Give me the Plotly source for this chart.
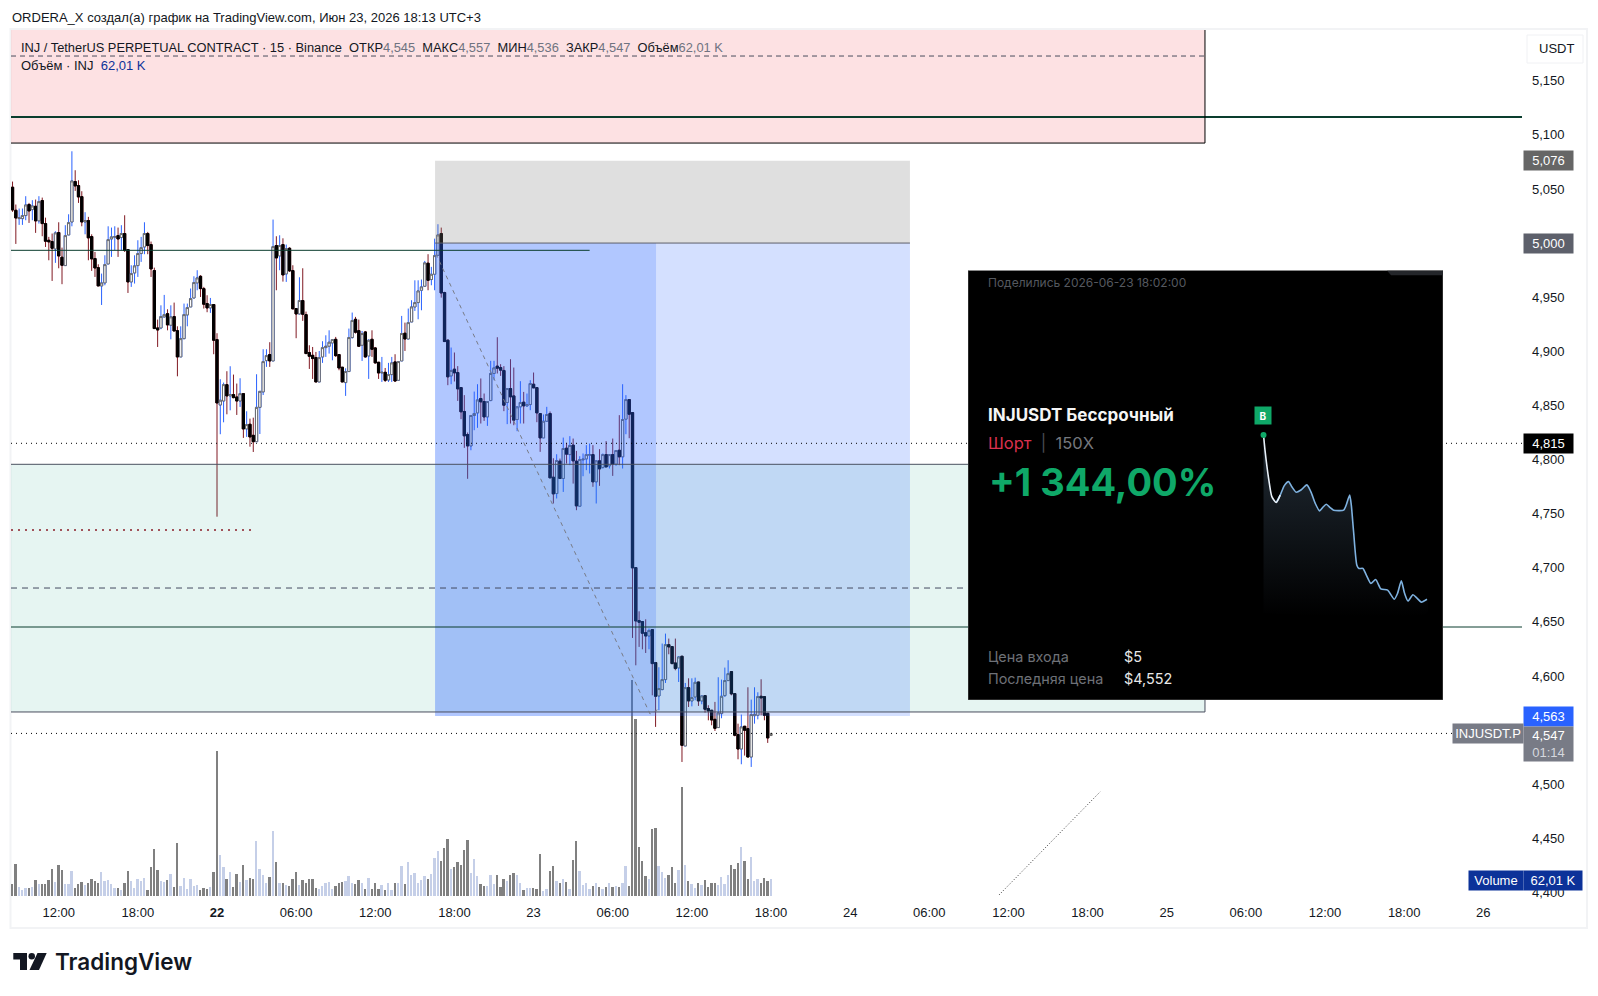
import pandas as pd
import plotly.graph_objects as go

opens = [5.0516,5.0303,5.0226,5.0226,5.0254,5.0356,5.0309,5.0340,5.0205,5.0393,5.0180,5.0026,5.0014,4.9946,5.0097,4.9869,4.9792,5.0075,5.0195,5.0568,5.0531,5.0429,5.0195,5.0208,5.0060,4.9857,4.9773,4.9604,4.9632,4.9807,5.0038,5.0054,5.0069,5.0051,5.0088,4.9940,4.9641,4.9724,4.9792,4.9903,4.9964,5.0088,4.9986,4.9746,4.9216,4.9216,4.9318,4.9348,4.9241,4.9321,4.9191,4.8948,4.9117,4.9336,4.9410,4.9493,4.9632,4.9693,4.9579,4.9441,4.9401,4.9432,4.9108,4.8504,4.8541,4.8692,4.8588,4.8600,4.8578,4.8541,4.8609,4.8283,4.8326,4.8224,4.8165,4.8482,4.8625,4.8914,4.8970,4.8911,4.9977,4.9881,4.9986,4.9715,4.9952,4.9746,4.9395,4.9345,4.9469,4.9339,4.8988,4.8963,4.8942,4.8717,4.8948,4.9034,4.9047,4.9077,4.9111,4.8970,4.8853,4.8711,4.8813,4.9127,4.9296,4.9191,4.9056,4.9179,4.8957,4.9111,4.9031,4.8899,4.8800,4.8806,4.8735,4.8785,4.8902,4.8732,4.8911,4.9167,4.9114,4.9271,4.9410,4.9450,4.9564,4.9601,4.9814,4.9663,4.9712,4.9887,5.0088,4.9543,4.9103,4.8773,4.8835,4.8804,4.8665,4.8444,4.8231,4.8126,4.8407,4.8431,4.8564,4.8536,4.8394,4.8545,4.8795,4.8863,4.8850,4.8823,4.8527,4.8656,4.8588,4.8370,4.8487,4.8530,4.8496,4.8508,4.8696,4.8665,4.8425,4.8200,4.8354,4.8425,4.7837,4.7686,4.7985,4.7825,4.8105,4.8046,4.8133,4.7985,4.7569,4.7997,4.8006,4.8040,4.8046,4.7794,4.7988,4.7926,4.8046,4.7942,4.8046,4.7957,4.8086,4.8025,4.8373,4.8554,4.8434,4.7002,4.6512,4.6503,4.6401,4.6370,4.6429,4.6124,4.5816,4.5875,4.5967,4.6290,4.6272,4.6121,4.6075,4.6183,4.5354,4.5893,4.5770,4.5807,4.5945,4.5770,4.5819,4.5699,4.5684,4.5600,4.5524,4.5653,4.5819,4.5958,4.6041,4.5838,4.5459,4.5326,4.5536,4.5514,4.5252,4.5634,4.5637,4.5813,4.5810,4.5656,4.5450]
highs = [5.0568,5.0356,5.0319,5.0319,5.0433,5.0371,5.0396,5.0402,5.0433,5.0420,5.0235,5.0057,5.0088,5.0109,5.0192,4.9958,5.0165,5.0266,5.0848,5.0673,5.0580,5.0479,5.0285,5.0242,5.0081,4.9918,4.9804,4.9718,4.9887,5.0155,5.0143,5.0155,5.0143,5.0165,5.0257,4.9940,4.9795,4.9887,5.0026,5.0057,5.0192,5.0103,5.0014,4.9773,4.9293,4.9425,4.9521,4.9388,4.9425,4.9450,4.9231,4.9231,4.9441,4.9441,4.9580,4.9693,4.9749,4.9703,4.9595,4.9518,4.9493,4.9432,4.9167,4.8742,4.8711,4.8816,4.8862,4.8785,4.8702,4.8751,4.8609,4.8446,4.8378,4.8387,4.8788,4.8630,4.9019,4.9019,4.9084,5.0217,5.0063,5.0072,5.0044,4.9986,4.9961,4.9795,4.9395,4.9684,4.9767,4.9367,4.9056,4.9040,4.8994,4.9003,4.9093,4.9148,4.9194,4.9108,4.9133,4.8970,4.8853,4.8843,4.9210,4.9358,4.9318,4.9293,4.9188,4.9188,4.9111,4.9194,4.9040,4.8899,4.8948,4.8846,4.8893,4.8948,4.8973,4.8905,4.9327,4.9265,4.9395,4.9472,4.9656,4.9656,4.9663,4.9835,4.9897,4.9780,5.0041,5.0174,5.0143,4.9550,4.9109,4.9035,4.8989,4.8863,4.8665,4.8595,4.8250,4.8407,4.8628,4.8696,4.8749,4.8610,4.8536,4.8912,4.8912,4.9130,4.8881,4.8863,4.8656,4.8927,4.8850,4.8487,4.8724,4.8625,4.8610,4.8733,4.8804,4.8665,4.8425,4.8416,4.8487,4.8444,4.8012,4.8049,4.8009,4.8203,4.8154,4.8216,4.8194,4.8080,4.8031,4.8056,4.8133,4.8148,4.8133,4.7988,4.8096,4.8056,4.8170,4.8046,4.8194,4.8086,4.8410,4.8696,4.8595,4.8434,4.7131,4.6725,4.6598,4.6444,4.6524,4.6438,4.6207,4.6090,4.6081,4.6300,4.6392,4.6346,4.6275,4.6346,4.6183,4.5979,4.5936,4.5979,4.5979,4.5985,4.5905,4.5819,4.5776,4.5730,4.5600,4.5761,4.5989,4.5967,4.6078,4.6146,4.5853,4.5597,4.5560,4.5644,4.5514,4.5896,4.5782,4.5896,4.5850,4.5970,4.5690,4.5570]
lows = [5.0288,4.9992,5.0168,5.0168,5.0211,5.0186,5.0211,5.0094,5.0180,5.0063,4.9964,4.9841,4.9650,4.9817,4.9767,4.9620,4.9792,5.0075,5.0155,5.0482,5.0371,5.0155,5.0081,4.9841,4.9743,4.9687,4.9604,4.9428,4.9610,4.9804,4.9872,4.9934,4.9872,4.9934,4.9918,4.9539,4.9595,4.9626,4.9687,4.9826,4.9897,4.9897,4.9687,4.9210,4.9040,4.9204,4.9311,4.9194,4.9111,4.9188,4.8769,4.8948,4.9111,4.9231,4.9410,4.9487,4.9564,4.9502,4.9395,4.9361,4.9355,4.8973,4.7472,4.8234,4.8344,4.8418,4.8455,4.8566,4.8412,4.8486,4.8200,4.8209,4.8119,4.8070,4.8165,4.8236,4.8596,4.8856,4.8856,4.8911,4.9564,4.9749,4.9644,4.9641,4.9733,4.9392,4.9121,4.9342,4.9281,4.8979,4.8837,4.8745,4.8717,4.8717,4.8893,4.8948,4.8979,4.8917,4.8948,4.8825,4.8717,4.8588,4.8810,4.9117,4.9164,4.9040,4.8911,4.8942,4.8745,4.8948,4.8886,4.8745,4.8717,4.8717,4.8717,4.8717,4.8717,4.8732,4.8911,4.9003,4.9111,4.9271,4.9373,4.9296,4.9379,4.9601,4.9564,4.9610,4.9564,4.9887,4.9496,4.9090,4.8687,4.8696,4.8721,4.8542,4.8373,4.8108,4.7822,4.8086,4.8271,4.8293,4.8333,4.8357,4.8311,4.8539,4.8733,4.8795,4.8773,4.8447,4.8327,4.8333,4.8317,4.8262,4.8333,4.8333,4.8487,4.8456,4.8662,4.8345,4.8071,4.8200,4.8348,4.7831,4.7594,4.7640,4.7825,4.7701,4.7963,4.7948,4.7778,4.7532,4.7563,4.7846,4.7902,4.7871,4.7748,4.7594,4.7757,4.7917,4.7932,4.7917,4.7849,4.7942,4.7948,4.7917,4.8234,4.8197,4.6352,4.6099,4.6269,4.6247,4.6213,4.6247,4.5822,4.5530,4.5684,4.5868,4.5936,4.6201,4.6109,4.6053,4.5945,4.5206,4.5354,4.5714,4.5720,4.5776,4.5724,4.5739,4.5662,4.5591,4.5545,4.5493,4.5524,4.5610,4.5807,4.5958,4.5822,4.5443,4.5231,4.5185,4.5265,4.5252,4.5160,4.5560,4.5600,4.5637,4.5591,4.5382,4.5360]
closes = [5.0306,5.0232,5.0232,5.0254,5.0352,5.0297,5.0343,5.0205,5.0383,5.0180,5.0017,5.0011,4.9952,5.0094,4.9881,4.9795,5.0069,5.0189,5.0574,5.0528,5.0426,5.0195,5.0208,5.0048,4.9854,4.9770,4.9604,4.9632,4.9801,5.0032,5.0057,5.0060,5.0038,5.0088,4.9931,4.9641,4.9718,4.9789,4.9903,4.9958,5.0088,4.9977,4.9761,4.9210,4.9197,4.9321,4.9339,4.9244,4.9318,4.9188,4.8948,4.9117,4.9339,4.9404,4.9487,4.9635,4.9678,4.9579,4.9435,4.9401,4.9432,4.9102,4.8523,4.8548,4.8692,4.8588,4.8600,4.8572,4.8541,4.8609,4.8283,4.8323,4.8209,4.8165,4.8482,4.8630,4.8905,4.8960,4.8911,4.9967,4.9863,4.9977,4.9706,4.9949,4.9743,4.9392,4.9345,4.9469,4.9342,4.8979,4.8954,4.8933,4.8717,4.8942,4.9034,4.9047,4.9084,4.9108,4.8960,4.8846,4.8717,4.8813,4.9127,4.9284,4.9176,4.9047,4.9164,4.8948,4.9102,4.9019,4.8893,4.8800,4.8806,4.8732,4.8785,4.8893,4.8726,4.8905,4.9164,4.9114,4.9265,4.9410,4.9450,4.9558,4.9595,4.9817,4.9656,4.9712,4.9884,5.0075,4.9539,4.9090,4.8764,4.8823,4.8801,4.8653,4.8441,4.8219,4.8126,4.8407,4.8425,4.8551,4.8533,4.8394,4.8536,4.8795,4.8847,4.8844,4.8826,4.8502,4.8656,4.8579,4.8364,4.8487,4.8527,4.8496,4.8508,4.8702,4.8662,4.8431,4.8200,4.8354,4.8416,4.7831,4.7683,4.7991,4.7825,4.8102,4.8050,4.8130,4.7988,4.7572,4.8000,4.8003,4.8046,4.8046,4.7794,4.7988,4.7914,4.8046,4.7932,4.8046,4.7957,4.8083,4.8025,4.8370,4.8554,4.8419,4.6999,4.6509,4.6497,4.6395,4.6370,4.6420,4.6115,4.5813,4.5884,4.5967,4.6290,4.6269,4.6115,4.6069,4.6176,4.5360,4.5893,4.5770,4.5801,4.5942,4.5770,4.5816,4.5693,4.5677,4.5594,4.5517,4.5659,4.5813,4.5958,4.6022,4.5835,4.5453,4.5326,4.5530,4.5499,4.5252,4.5644,4.5647,4.5810,4.5798,4.5637,4.5428,4.5470]
volumes_k = [44,117,33,22,29,29,33,58,44,44,44,58,98,51,113,95,44,44,91,29,44,51,40,47,62,55,47,88,55,58,44,29,29,22,47,91,55,29,62,55,66,22,106,171,95,55,51,58,80,33,193,36,66,26,62,36,40,22,29,26,33,88,529,150,106,62,88,33,80,51,113,58,66,62,201,98,77,47,69,237,124,47,47,40,36,62,88,40,58,47,62,62,29,26,36,47,51,26,36,47,51,55,73,47,44,58,47,26,66,26,47,26,40,22,47,22,47,47,109,44,124,77,84,47,58,73,62,80,139,164,128,175,208,98,106,124,113,168,204,84,135,73,44,36,36,77,44,77,33,62,55,77,84,77,47,22,29,29,29,26,153,18,26,91,109,55,47,62,51,26,131,201,91,40,47,26,36,47,33,26,33,47,33,36,33,47,109,36,788,646,179,128,73,62,244,248,109,88,66,77,106,47,95,398,113,55,44,29,47,40,58,33,47,47,40,69,44,77,113,98,120,179,128,62,142,55,62,47,66,55,62]

bar_start = "2026-06-21 08:30"
times = pd.date_range(bar_start, periods=len(opens), freq="15min")

price_ticks = [4.40,4.45,4.50,4.60,4.65,4.70,4.75,4.80,4.85,4.90,4.95,5.05,5.10,5.15]
time_tick_vals = ["2026-06-21 12:00","2026-06-21 18:00","2026-06-22 00:00","2026-06-22 06:00","2026-06-22 12:00","2026-06-22 18:00","2026-06-23 00:00","2026-06-23 06:00","2026-06-23 12:00","2026-06-23 18:00","2026-06-24 00:00","2026-06-24 06:00","2026-06-24 12:00","2026-06-24 18:00","2026-06-25 00:00","2026-06-25 06:00","2026-06-25 12:00","2026-06-25 18:00","2026-06-26 00:00"]
time_tick_text = ["12:00","18:00","<b>22</b>","06:00","12:00","18:00","23","06:00","12:00","18:00","24","06:00","12:00","18:00","25","06:00","12:00","18:00","26"]

mini_t = [0,1.0,3.1,5.1,7.8,10.2,12.7,15.3,17.3,20.0,22.9,26.5,29.0,31.6,34.3,36.3,38.4,40.8,42.9,49.0,50.6,52.7,53.7,55.1,57.1,58.4,60.8,62.9,65.7,68.6,71.8,75.9,80.0,82.0,84.3,86.3,88.4,91.4,93.9,96.5,100]
mini_v = [5.000,4.955,4.882,4.832,4.816,4.836,4.862,4.873,4.859,4.844,4.850,4.864,4.845,4.814,4.793,4.803,4.811,4.802,4.795,4.795,4.809,4.836,4.809,4.736,4.645,4.636,4.636,4.618,4.595,4.606,4.580,4.577,4.552,4.568,4.602,4.568,4.547,4.564,4.555,4.544,4.552]

X0, X1 = "2026-06-21 08:23", "2026-06-26 02:56"
Y0, Y1 = 4.39678, 5.19684
VOL_MAX = 3159
L, R, T, B = 11, 1522, 30, 896
FONT = "Liberation Sans"
UI = "Inter"
INK = "#131722"


def px(x):
    return (x - L) / (R - L)


def py(y):
    return (B - y) / (B - T)


fig = go.Figure()

# volume
vol_colors = ["#c5cfe8" if c >= o else "#808080" for o, c in zip(opens, closes)]
fig.add_trace(go.Bar(x=times, y=volumes_k, width=500000, marker=dict(color=vol_colors, line_width=0), yaxis="y", hoverinfo="skip"))

# wicks, then bodies
fig.add_trace(go.Candlestick(x=times, open=opens, high=highs, low=lows, close=closes, yaxis="y2",
                             increasing=dict(line=dict(color="#2962ff", width=1), fillcolor="#2962ff"),
                             decreasing=dict(line=dict(color="#801922", width=1), fillcolor="#801922"),
                             whiskerwidth=0, hoverinfo="skip"))
fig.add_trace(go.Candlestick(x=times, open=opens, close=closes,
                             high=[max(o, c) for o, c in zip(opens, closes)],
                             low=[min(o, c) for o, c in zip(opens, closes)], yaxis="y2",
                             increasing=dict(line=dict(color="#6a6a6a", width=1), fillcolor="#ffffff"),
                             decreasing=dict(line=dict(color="#000000", width=1), fillcolor="#000000"),
                             whiskerwidth=0, hoverinfo="skip"))


def zone(t0, t1, p0, p1, color):
    fig.add_trace(go.Scatter(x=[t0, t1, t1, t0, t0], y=[p0, p0, p1, p1, p0], yaxis="y2", mode="lines",
                             line=dict(width=0), fill="toself", fillcolor=color, hoverinfo="skip"))


def hline(t0, t1, p, color, width=1, dash="solid"):
    fig.add_trace(go.Scatter(x=[t0, t1], y=[p, p], yaxis="y2", mode="lines",
                             line=dict(color=color, width=width, dash=dash), hoverinfo="skip"))


T_ENTRY, T_MID, T_END, T_ZONE = "2026-06-22 16:32", "2026-06-23 09:17", "2026-06-24 04:32", "2026-06-25 02:54"

zone(X0, T_ZONE, 5.0924, Y1, "rgba(242,54,69,0.15)")
zone(X0, T_ZONE, 4.5668, 4.7956, "rgba(8,153,129,0.10)")
zone(T_ENTRY, T_END, 5.000, 5.076, "rgba(128,128,128,0.25)")
zone(T_ENTRY, T_END, 4.563, 5.000, "rgba(41,98,255,0.20)")
zone(T_ENTRY, T_MID, 4.563, 5.000, "rgba(41,98,255,0.20)")

hline(X0, X1, 5.1165, "#0a3d2e", 2)
hline(X0, T_ZONE, 5.1728, "#4a4e5e", 1, "5px,4px")
hline(X0, T_ZONE, 5.0924, "#000000", 1)
fig.add_trace(go.Scatter(x=[T_ZONE, T_ZONE], y=[5.0924, Y1], yaxis="y2", mode="lines", line=dict(color="#000000", width=1), hoverinfo="skip"))
hline(T_ENTRY, T_END, 5.000, "#5d606b", 1)
hline(X0, "2026-06-23 04:15", 4.9933, "#0a3d2e", 1)
hline(X0, X1, 4.815, "#000000", 1, "1px,4px")
hline(X0, T_ZONE, 4.7956, "#4a5060", 1)
hline(X0, "2026-06-22 02:45", 4.7349, "#8a1c28", 1.5, "2px,5px")
hline(X0, "2026-06-25 00:00", 4.6813, "#444a60", 1, "6px,5px")
hline(X0, X1, 4.6453, "#0a3d2e", 1)
hline(X0, T_ZONE, 4.5668, "#4a4e5e", 1)
fig.add_trace(go.Scatter(x=[T_ZONE, T_ZONE], y=[4.5668, 4.7956], yaxis="y2", mode="lines", line=dict(color="#4a4e5e", width=1), hoverinfo="skip"))
hline(X0, "2026-06-25 22:15", 4.547, "#000000", 1, "1px,4px")

# diagonal drawings
fig.add_trace(go.Scatter(x=["2026-06-22 16:36", "2026-06-23 08:50", "2026-06-23 09:30"], y=[4.990, 4.5649, 4.5696], yaxis="y2",
                         mode="lines", line=dict(color="#787b86", width=1, dash="4px,4px"), hoverinfo="skip"))
fig.add_trace(go.Scatter(x=["2026-06-24 11:17", "2026-06-24 18:57"], y=[4.3977, 4.493], yaxis="y2", mode="lines",
                         line=dict(color="#333333", width=1, dash="1px,2px"), hoverinfo="skip"))

# share card
CX0, CX1, CY0, CY1 = -180.8, 109.8, 4.277, 5.449
fig.add_trace(go.Scatter(x=[CX0, CX1, CX1, CX0, CX0], y=[CY0, CY0, CY1, CY1, CY0], xaxis="x2", yaxis="y3", mode="lines",
                         line=dict(color="#555555", width=1), fill="toself", fillcolor="#000000", hoverinfo="skip"))
fig.add_trace(go.Scatter(x=[75.5, CX1, CX1, 78, 75.5], y=[CY1, CY1, 5.436, 5.436, CY1], xaxis="x2", yaxis="y3", mode="lines",
                         line=dict(width=0), fill="toself", fillcolor="#24262a", hoverinfo="skip"))
fig.add_trace(go.Scatter(x=mini_t + [mini_t[-1], mini_t[0]], y=mini_v + [4.514, 4.514], xaxis="x2", yaxis="y3", mode="lines",
                         line=dict(width=0, shape="spline", smoothing=0.6), fill="toself",
                         fillgradient=dict(type="vertical", colorscale=[[0, "#000000"], [1, "#222c36"]]), hoverinfo="skip"))
fig.add_trace(go.Scatter(x=mini_t[4:], y=mini_v[4:], xaxis="x2", yaxis="y3", mode="lines",
                         line=dict(color="#7fb2e0", width=1.6, shape="spline", smoothing=0.6), hoverinfo="skip"))
fig.add_trace(go.Scatter(x=mini_t[:6], y=mini_v[:6], xaxis="x2", yaxis="y3", mode="lines",
                         line=dict(color="#e8f0f8", width=1.6, shape="spline", smoothing=0.6), hoverinfo="skip"))
fig.add_trace(go.Scatter(x=[0], y=[5.0], xaxis="x2", yaxis="y3", mode="markers", marker=dict(color="#0fa868", size=6), hoverinfo="skip"))

ann = []


def note(x, y, text, size=13, color=INK, font=FONT, anchor="left", **kw):
    ann.append(dict(xref="paper", yref="paper", x=px(x), y=py(y), text=text, showarrow=False, xanchor=anchor, yanchor="middle",
                    align=kw.pop("align", "left"), font=dict(family=font, size=size, color=color, **kw), borderpad=0))


def tag(x, w, h, price, text, bg, color="#ffffff", **kw):
    ann.append(dict(xref="paper", yref="y2", x=px(x), y=price, text=text, showarrow=False, xanchor="left", yanchor="middle",
                    width=w, height=h, align="center", valign="middle", bgcolor=bg, borderpad=0,
                    font=dict(family=FONT, size=13, color=color, **kw)))


G = "#6f7380"
note(11, 17, "ORDERA_X создал(а) график на TradingView.com, Июн 23, 2026 18:13 UTC+3", 13)
note(20, 47, f"INJ / TetherUS PERPETUAL CONTRACT · 15 · Binance&nbsp;&nbsp;ОТКР<span style='color:{G}'>4,545</span>&nbsp;&nbsp;МАКС<span style='color:{G}'>4,557</span>&nbsp;&nbsp;МИН<span style='color:{G}'>4,536</span>&nbsp;&nbsp;ЗАКР<span style='color:{G}'>4,547</span>&nbsp;&nbsp;Объём<span style='color:{G}'>62,01 K</span>", 12.85)
note(20, 66, "Объём · INJ&nbsp;&nbsp;<span style='color:#0c3299'>62,01 K</span>", 13)
note(1538, 49, "USDT", 13)

tag(1523, 49, 19, 5.076, "5,076", "#666666")
tag(1523, 49, 19, 5.000, "5,000", "#5d606b")
tag(1523, 49, 19, 4.815, "4,815", "#000000")
tag(1523, 49, 19, 4.563, "4,563", "#2962ff")
ann.append(dict(xref="paper", yref="paper", x=px(1523), y=py(744), text="4,547<br><span style='color:#d6d8de'>01:14</span>", showarrow=False,
                xanchor="left", yanchor="middle", width=49, height=34, align="center", valign="middle", bgcolor="#787b86", borderpad=0,
                font=dict(family=FONT, size=13, color="#ffffff")))
tag(1452, 70, 19, 4.547, "INJUSDT.P", "#787b86")
for xx, ww, tt in [(1468, 54, "Volume"), (1523, 58, "62,01 K")]:
    ann.append(dict(xref="paper", yref="paper", x=px(xx), y=py(880), text=tt, showarrow=False, xanchor="left", yanchor="middle", width=ww, height=19,
                    align="center", valign="middle", bgcolor="#0c3299", borderpad=0, font=dict(family=FONT, size=13, color="#ffffff")))

note(987, 282, "Поделились 2026-06-23 18:02:00", 12, "#55585f", UI)
note(987, 415, "INJUSDT Бессрочный", 17, "#f5f5f5", UI, weight=700)
note(987, 443, "<span style='color:#d9304e'>Шорт</span>&nbsp; <span style='color:#4a4d52'>|</span> &nbsp;<span style='color:#75787e'>150X</span>", 16.5, "#75787e", UI)
note(988, 482, "+1&nbsp;344,00%", 38, "#0fa868", UI, weight=700)
note(987, 656, "Цена входа", 14.4, "#6e7177", UI)
note(987, 678, "Последняя цена", 14.4, "#6e7177", UI)
note(1123, 656, "$5", 14.4, "#e8e8e8", UI)
note(1123, 678, "$4,552", 14.4, "#e8e8e8", UI)
ann.append(dict(xref="paper", yref="paper", x=px(1263), y=py(415), text="B", showarrow=False, xanchor="center", yanchor="middle", width=16, height=17,
                align="center", valign="middle", bgcolor="#0fa868", borderpad=0, font=dict(family=UI, size=10, color="#ffffff", weight=700)))

note(54, 961, "TradingView", 22.5, "#131722", UI, weight=600)


def poly(points, color):
    d = "M " + " L ".join(f"{px(a):.5f},{py(b):.5f}" for a, b in points) + " Z"
    return dict(type="path", xref="paper", yref="paper", path=d, fillcolor=color, line_width=0, layer="above")


shapes = [
    dict(type="rect", xref="paper", yref="paper", x0=px(10.5), x1=px(1587), y0=py(928), y1=py(29), line=dict(color="#f2f3f5", width=2), layer="below"),
    dict(type="rect", xref="paper", yref="paper", x0=px(1527), x1=px(1583), y0=py(63), y1=py(35), line=dict(color="#f0f1f4", width=1), fillcolor="#ffffff", layer="below"),
    poly([(13.3, 953), (27, 953), (27, 970), (20, 970), (20, 959.5), (13.3, 959.5)], "#131722"),
    poly([(37.5, 953), (46.7, 953), (39, 970), (29.5, 970)], "#131722"),
    dict(type="circle", xref="paper", yref="paper", x0=px(28.5), x1=px(35), y0=py(959.5), y1=py(953), fillcolor="#131722", line_width=0, layer="above"),
]

fig.update_layout(
    width=1598, height=996, autosize=False,
    margin=dict(l=L, r=1598 - R, t=T, b=996 - B, pad=0),
    paper_bgcolor="#ffffff", plot_bgcolor="#ffffff",
    showlegend=False, separators=", ", boxgap=0.2, boxgroupgap=0.15, bargap=0, barmode="overlay",
    hovermode=False, dragmode=False,
    font=dict(family=FONT, size=13, color=INK),
    annotations=ann, shapes=shapes,
    xaxis=dict(type="date", range=[X0, X1], rangeslider=dict(visible=False), showgrid=False, zeroline=False, showline=False, ticks="",
               tickmode="array", tickvals=time_tick_vals, ticktext=time_tick_text, tickfont=dict(family=FONT, size=13, color=INK),
               ticklabelstandoff=7, fixedrange=True, tickangle=0),
    yaxis=dict(range=[0, VOL_MAX], visible=False, showgrid=False, zeroline=False, fixedrange=True),
    yaxis2=dict(range=[Y0, Y1], overlaying="y", side="right", anchor="x", showgrid=False, zeroline=False, showline=False, ticks="",
                tickmode="array", tickvals=price_ticks, tickformat=".3f", tickfont=dict(family=FONT, size=13, color=INK),
                ticklabelstandoff=9, fixedrange=True),
    xaxis2=dict(domain=[px(968), px(1443)], range=[CX0, CX1], visible=False, anchor="y3", fixedrange=True),
    yaxis3=dict(domain=[py(700), py(270.5)], range=[CY0, CY1], visible=False, anchor="x2", fixedrange=True),
)

fig.write_html("out.html", config={"displayModeBar": False}, post_script="document.body.style.margin='0';")
